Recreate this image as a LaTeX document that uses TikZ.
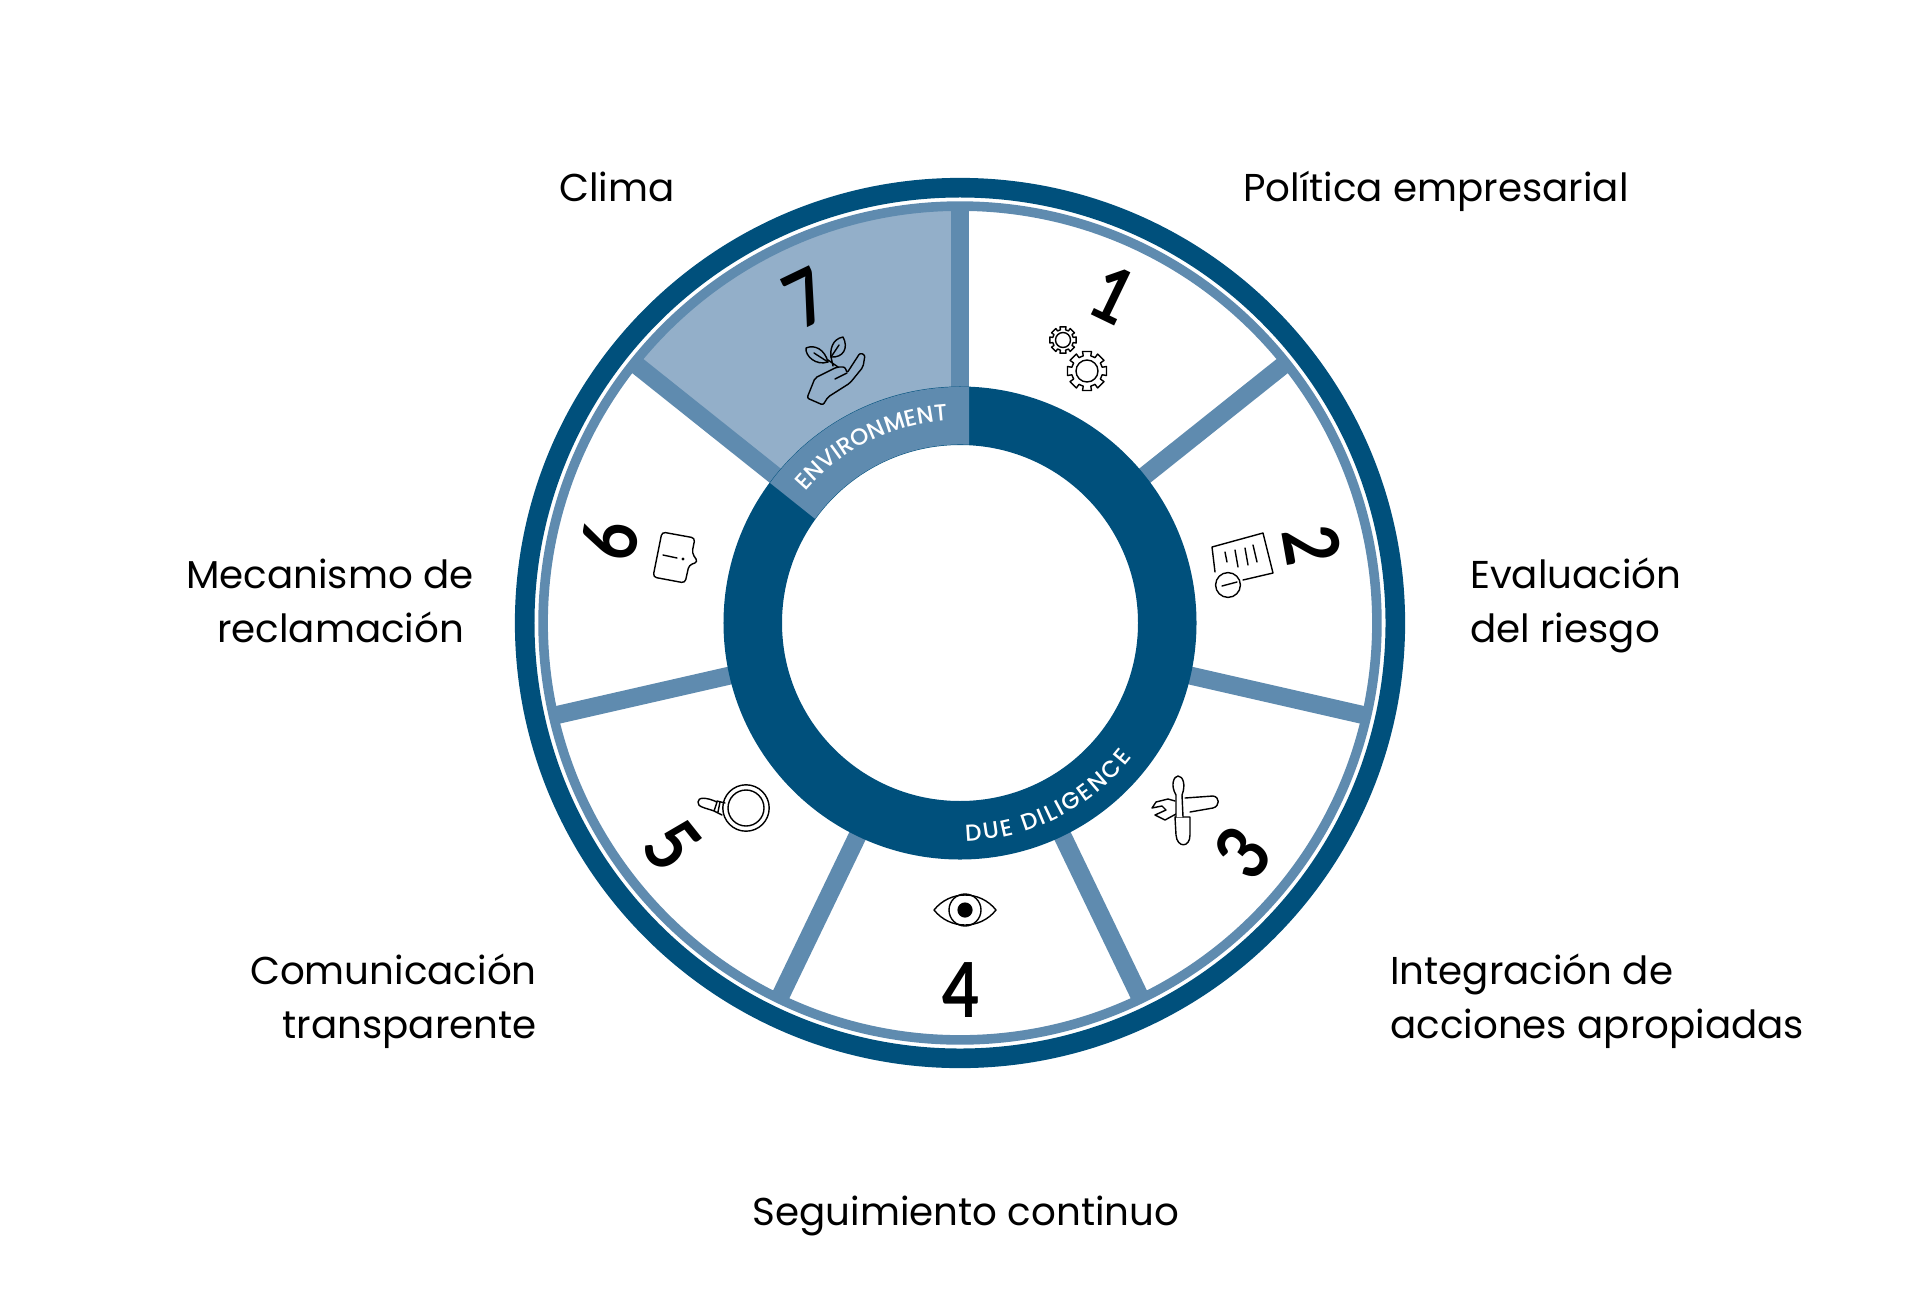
\documentclass[tikz,border=0pt]{standalone}
\usepackage{fontspec}
\setmainfont{Poppins}
\newfontfamily\digitfont{Lato}
\newfontfamily\ringfont{Poppins Medium}
\usetikzlibrary{calc,decorations.text}

\definecolor{ringdark}{HTML}{00507C}
\definecolor{ringmid}{HTML}{5F8BAF}
\definecolor{ringlight}{HTML}{93AFC9}

\tikzset{
  labeltext/.style={font={\fontsize{27.6}{38.4}\selectfont}, black, inner sep=0pt},
  digitnum/.style={font={\digitfont\bfseries\fontsize{54}{54}\selectfont}, black, inner sep=0pt},
  iconline/.style={draw=black, line width=1pt, line join=round, line cap=round},
  barline/.style={ringmid, line width=0.45cm},
}

\newcommand{\gearicon}[4]{%
  \draw[iconline] ($(#1,#2)+(-13:#3)$) \foreach \a in {0,45,...,315} {
    -- ($(#1,#2)+({\a-13}:#3)$) -- ($(#1,#2)+({\a+13}:#3)$)
    -- ($(#1,#2)+({\a+14}:#3*0.78)$) -- ($(#1,#2)+({\a+31}:#3*0.78)$)
  } -- cycle;
  \draw[iconline] (#1,#2) circle[radius=#4*0.025cm];
}

\begin{document}
\begin{tikzpicture}[x=0.025cm, y=-0.025cm]
    \useasboundingbox (0,0) rectangle (1920,1295);
    \coordinate (ctr) at (960,623);

    % rings and sector
    \fill[ringlight] (ctr) ++(90:10.4cm) arc[start angle=90, end angle=141.43, radius=10.4cm]
        -- ($(ctr)+(141.43:5.5cm)$) arc[start angle=141.43, end angle=90, radius=5.5cm] -- cycle;
    \draw[ringdark, line width=0.49cm] (ctr) circle[radius=10.88cm];
    \draw[ringmid, line width=0.24cm] (ctr) circle[radius=10.42cm];
    \foreach \ang in {90,38.57,-12.86,-64.29,-115.71,-167.14,141.43} {
        \draw[barline] (ctr) ++(\ang:5.6cm) -- ++(\ang:4.85cm);
    }
    \draw[ringdark, line width=1.4625cm] (ctr) circle[radius=5.18cm];
    \fill[ringmid] (ctr) ++(87.8:5.9cm) arc[start angle=87.8, end angle=143.6, radius=5.9cm]
        -- ($(ctr)+(144.3:4.4625cm)$) arc[start angle=144.3, end angle=87.1, radius=4.4625cm] -- cycle;

    % ring texts
    \path[postaction={decorate, decoration={text along path, text align=fit to path, text color=white,
        text={|\ringfont\fontsize{16.5}{16.5}\selectfont|ENVIRONMENT}}}]
        (ctr) ++(139.5:5.07cm) arc[start angle=139.5, end angle=93.5, radius=5.07cm];
    \path[postaction={decorate, decoration={text along path, text align=fit to path, text color=white,
        text={|\ringfont\fontsize{16.5}{16.5}\selectfont|DUE DILIGENCE}}}]
        (ctr) ++(-88.5:5.45cm) arc[start angle=-88.5, end angle=-38, radius=5.45cm];

    % labels
    \node[labeltext, anchor=west] (clima) at (559,187) {Clima};
    \node[labeltext, anchor=west] (politica) at (1243,191) {Política empresarial};
    \node[labeltext, anchor=west, align=left] (evaluacion) at (1470,605) {Evaluación\\del riesgo};
    \node[labeltext, anchor=west, align=left] (integracion) at (1390,1001) {Integración de\\acciones apropiadas};
    \node[labeltext] (seguimiento) at (966,1216) {Seguimiento continuo};
    \node[labeltext, anchor=east, align=right] (comunicacion) at (537,1001) {Comunicación\\transparente};
    \node[labeltext, anchor=west, align=left] (mecanismo) at (186,601) {Mecanismo de\\\hspace*{22pt}reclamación};

    % numbers
    \foreach \n/\x/\y/\r in {1/1113/295/-25.7, 2/1312/545/-80, 3/1243/853/51.4, 4/961/990/0,
        5/672/845/-51.4, 6/610/540/80, 7/806/298/25.7} {
        \node[digitnum, rotate=\r] (num\n) at (\x,\y) {\scalebox{0.85}[1]{\n}};
    }

    % icon 1
    \gearicon{1063}{340}{13.5}{7.5}
    \gearicon{1087}{371}{20}{11}

    % icon 2
    \draw[iconline] (1215,572) -- (1212,547) -- (1263,533) -- (1273,573) -- (1243,580);
    \draw[iconline] (1225,552) -- (1227,562);
    \draw[iconline] (1235,550) -- (1238,567);
    \draw[iconline] (1245,548) -- (1248,565);
    \draw[iconline] (1253,545) -- (1257,562);
    \draw[iconline] (1228,585) circle[radius=0.31cm];
    \draw[iconline] (1222,586) -- (1237,582);

    % icon 3
    \draw[iconline] (1185,798) -- (1213,796) .. controls (1220,797) and (1220,806) .. (1213,808) -- (1190,812)
        (1175,801) -- (1168,799) -- (1156,802) -- (1152,808) -- (1162,806) -- (1166,810) -- (1155,815) -- (1165,820) -- (1176,814);
    \draw[iconline, fill=white] (1175,817) -- (1190,817) -- (1190,835) .. controls (1190,848) and (1177,848) .. (1176,835) -- cycle;
    \draw[iconline, fill=white] (1176,817) -- (1176,795) .. controls (1170,785) and (1174,776) .. (1178,776)
        .. controls (1183,776) and (1186,785) .. (1182,795) -- (1183,817);

    % icon 4
    \draw[iconline] (934,910) .. controls (950,890) and (980,890) .. (996,910) .. controls (980,930) and (950,930) .. (934,910) -- cycle;
    \draw[iconline] (965,910) circle[radius=0.4cm];
    \fill[black] (965,910) circle[radius=0.19cm];

    % icon 5
    \draw[iconline] (746,808) circle[radius=0.58cm];
    \draw[iconline] (746,808) circle[radius=0.45cm];
    \draw[iconline] (717,802) .. controls (706,797) and (698,797) .. (698,802) .. controls (697,807) and (706,808) .. (714,811) -- (717,802)
        (717,801) -- (725,803) (714,811) -- (722,815) (718,812) -- (720,802);

    % icon 6
    \draw[iconline, rounded corners=2.5pt] (662,532) -- (695,538) -- (692,553) -- (698,562) -- (689,565) -- (685,583) -- (653,577) -- cycle;
    \draw[iconline] (663,555) -- (677,558);
    \fill[black] (683,559) circle[radius=0.04cm];

    % icon 7
    \draw[iconline, rounded corners=1.5pt] (807,398) -- (815,378) -- (837,367) -- (845,367) -- (847,373) -- (860,353) -- (865,355)
        -- (863,367) -- (850,383) -- (828,397) -- (823,405) -- cycle;
    \draw[iconline, rounded corners=1.5pt] (847,373) -- (835,379);
    \draw[iconline] (828,362) .. controls (825,350) and (815,344) .. (806,348) .. controls (805,356) and (816,366) .. (828,362);
    \draw[iconline] (831,357) .. controls (830,350) and (832,339) .. (843,337) .. controls (849,348) and (843,358) .. (831,357);
    \draw[iconline] (828,360) -- (838,367) (831,357) -- (833,366);
    \draw[iconline] (814,353) -- (828,362) (839,345) -- (831,357);
\end{tikzpicture}
\end{document}
